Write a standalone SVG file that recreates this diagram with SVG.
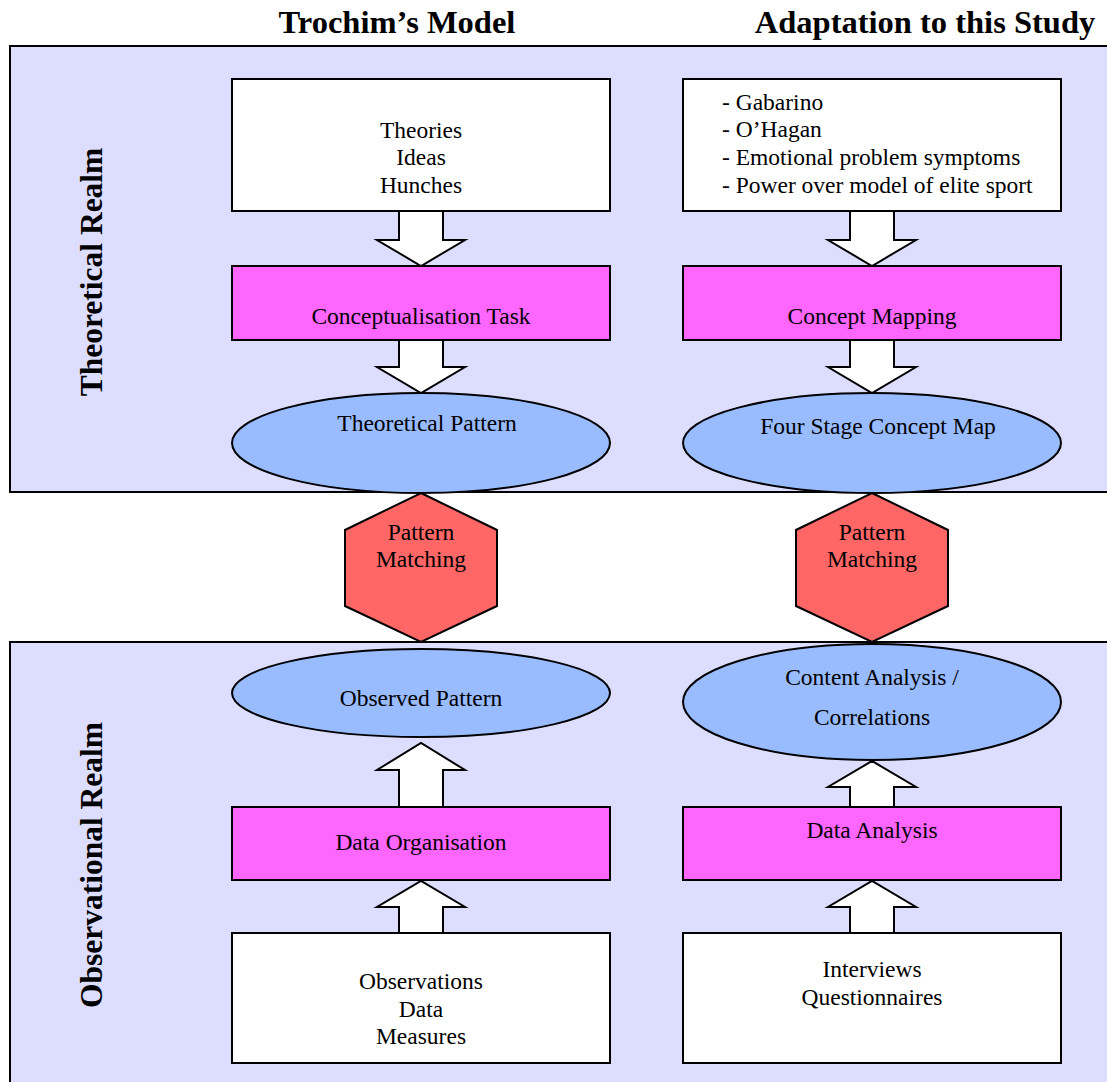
<svg xmlns="http://www.w3.org/2000/svg" width="1107" height="1082" viewBox="0 0 1107 1082">
<style>
.panel{fill:#DDDDFF;stroke:#000;stroke-width:2}
.box{fill:#FFFFFF;stroke:#000;stroke-width:2}
.task{fill:#FF66FF;stroke:#000;stroke-width:2}
.ell{fill:#99BBFF;stroke:#000;stroke-width:2}
.hex{fill:#FF6666;stroke:#000;stroke-width:2}
.arr{fill:#FFFFFF;stroke:#000;stroke-width:2;stroke-linejoin:miter}
.t{font-family:"Liberation Serif","Times New Roman",serif;font-size:23.5px;fill:#000;text-anchor:middle}
.tl{font-family:"Liberation Serif","Times New Roman",serif;font-size:23.5px;fill:#000}
.h{font-family:"Liberation Serif","Times New Roman",serif;font-size:32.5px;font-weight:bold;fill:#000;text-anchor:middle}
.v{font-family:"Liberation Serif","Times New Roman",serif;font-size:31.5px;font-weight:bold;fill:#000;text-anchor:middle}
</style>
<rect width="1107" height="1082" fill="#FFFFFF"/>
<text class="h" x="397" y="33">Trochim’s Model</text>
<text class="h" x="925" y="33">Adaptation to this Study</text>
<g id="theoretical-realm">
<rect class="panel" x="10" y="46" width="1110" height="446"/>
<text class="v" transform="translate(102,272) rotate(-90)">Theoretical Realm</text>
</g>
<g id="observational-realm">
<rect class="panel" x="10" y="642" width="1110" height="460"/>
<text class="v" transform="translate(102,865) rotate(-90)">Observational Realm</text>
</g>
<g id="connectors">
<path class="arr" d="M399,211 H443 V240 H465 L421,266 L377,240 H399 Z"/>
<path class="arr" d="M399,340 H443 V367 H465 L421,393 L377,367 H399 Z"/>
<path class="arr" d="M850,211 H894 V240 H916 L872,266 L828,240 H850 Z"/>
<path class="arr" d="M850,340 H894 V367 H916 L872,393 L828,367 H850 Z"/>
<path class="arr" d="M399,807 H443 V770 H465 L421,743 L377,770 H399 Z"/>
<path class="arr" d="M850,807 H894 V787 H916 L872,761 L828,787 H850 Z"/>
<path class="arr" d="M399,933 H443 V907 H465 L421,881 L377,907 H399 Z"/>
<path class="arr" d="M850,933 H894 V907 H916 L872,881 L828,907 H850 Z"/>
</g>
<g id="theories">
<rect class="box" x="232" y="79" width="378" height="132"/>
<text class="t" x="421" y="138">Theories</text>
<text class="t" x="421" y="165">Ideas</text>
<text class="t" x="421" y="193">Hunches</text>
</g>
<g id="literature">
<rect class="box" x="683" y="79" width="378" height="132"/>
<text class="tl" x="722" y="110">- Gabarino</text>
<text class="tl" x="722" y="137">- O’Hagan</text>
<text class="tl" x="722" y="165">- Emotional problem symptoms</text>
<text class="tl" x="722" y="193">- Power over model of elite sport</text>
</g>
<g id="conceptualisation-task">
<rect class="task" x="232" y="266" width="378" height="74"/>
<text class="t" x="421" y="324">Conceptualisation Task</text>
</g>
<g id="concept-mapping">
<rect class="task" x="683" y="266" width="378" height="74"/>
<text class="t" x="872" y="324">Concept Mapping</text>
</g>
<g id="theoretical-pattern">
<ellipse class="ell" cx="421" cy="443" rx="189" ry="50"/>
<text class="t" x="427" y="431">Theoretical Pattern</text>
</g>
<g id="four-stage-concept-map">
<ellipse class="ell" cx="872" cy="443" rx="189" ry="50"/>
<text class="t" x="878" y="434">Four Stage Concept Map</text>
</g>
<g id="pattern-matching-1">
<polygon class="hex" points="421,493 497,530 497,606 421,642 345,606 345,530"/>
<text class="t" x="421" y="540">Pattern</text>
<text class="t" x="421" y="567">Matching</text>
</g>
<g id="pattern-matching-2">
<polygon class="hex" points="872,493 948,530 948,606 872,642 796,606 796,530"/>
<text class="t" x="872" y="540">Pattern</text>
<text class="t" x="872" y="567">Matching</text>
</g>
<g id="observed-pattern">
<ellipse class="ell" cx="421" cy="693" rx="189" ry="44"/>
<text class="t" x="421" y="706">Observed Pattern</text>
</g>
<g id="content-analysis">
<ellipse class="ell" cx="872" cy="702" rx="189" ry="58"/>
<text class="t" x="872" y="685">Content Analysis /</text>
<text class="t" x="872" y="725">Correlations</text>
</g>
<g id="data-organisation">
<rect class="task" x="232" y="807" width="378" height="73"/>
<text class="t" x="421" y="850">Data Organisation</text>
</g>
<g id="data-analysis">
<rect class="task" x="683" y="807" width="378" height="73"/>
<text class="t" x="872" y="838">Data Analysis</text>
</g>
<g id="observations">
<rect class="box" x="232" y="933" width="378" height="130"/>
<text class="t" x="421" y="989">Observations</text>
<text class="t" x="421" y="1017">Data</text>
<text class="t" x="421" y="1044">Measures</text>
</g>
<g id="interviews">
<rect class="box" x="683" y="933" width="378" height="130"/>
<text class="t" x="872" y="977">Interviews</text>
<text class="t" x="872" y="1005">Questionnaires</text>
</g>
</svg>
